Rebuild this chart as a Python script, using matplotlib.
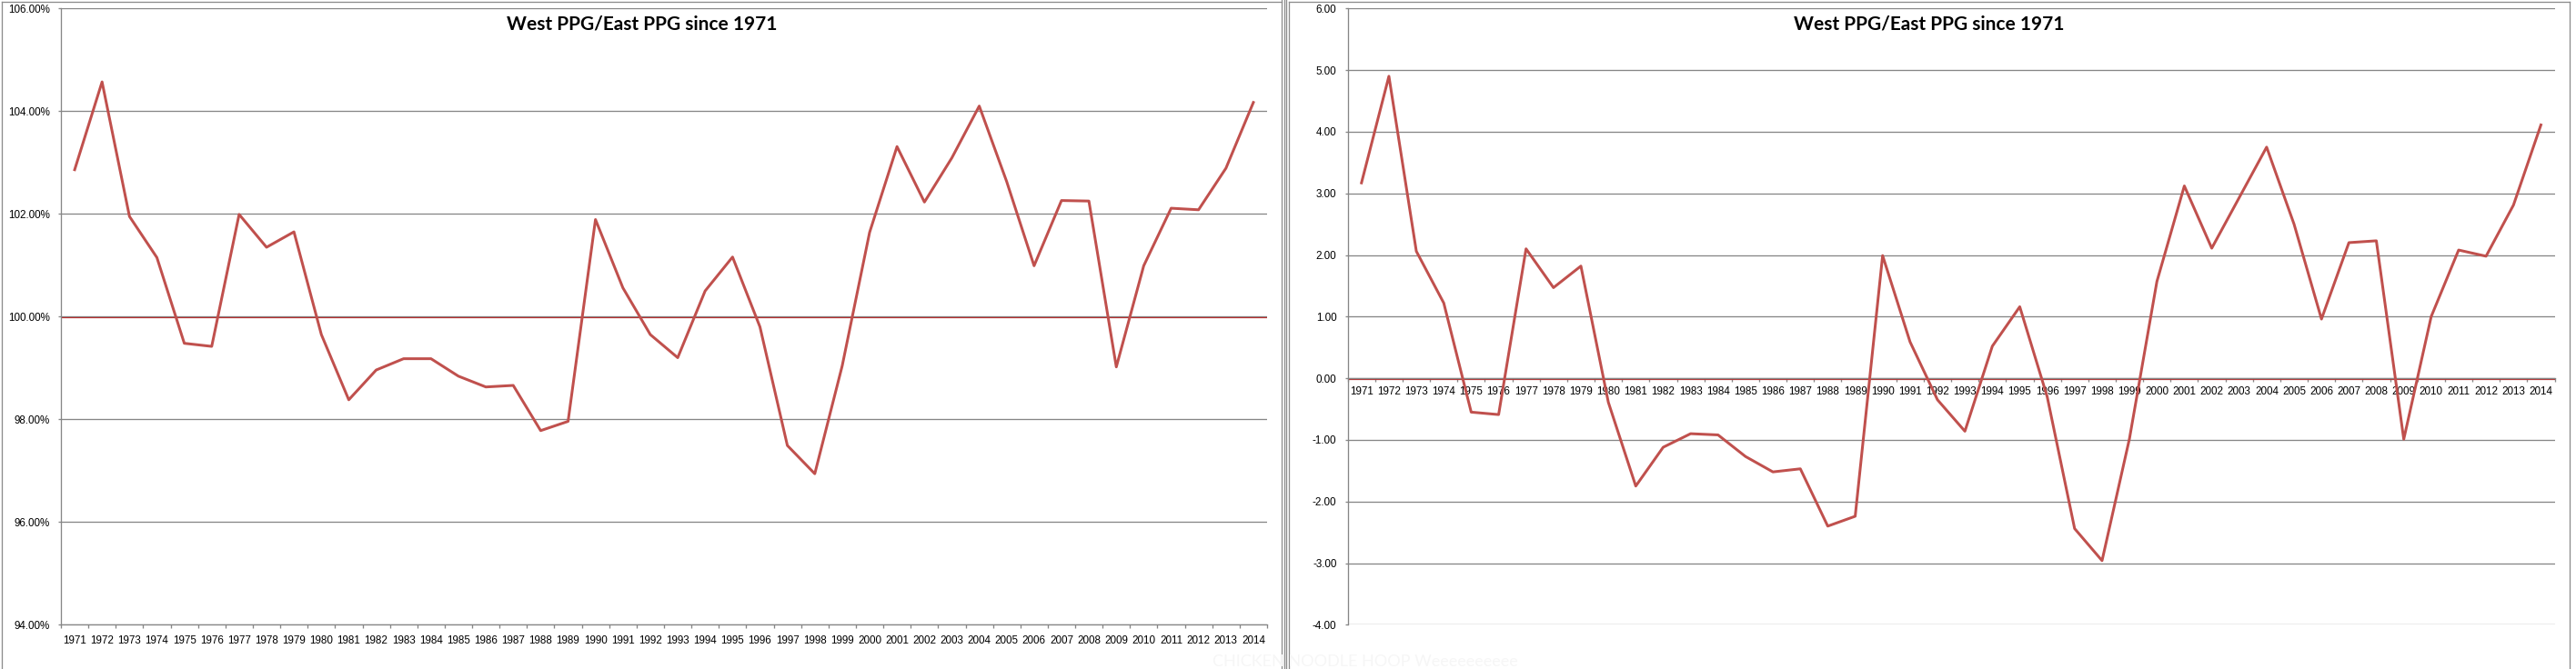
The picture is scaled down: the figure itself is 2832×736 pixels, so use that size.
import numpy as np
import matplotlib
matplotlib.use("Agg")
import matplotlib.pyplot as plt
from matplotlib.lines import Line2D
from matplotlib.ticker import FuncFormatter

# ---------------- data ----------------
years = [str(y) for y in range(1971, 2015)]

ratio_pct = [102.86, 104.57, 101.95, 101.15, 99.48, 99.42, 101.99, 101.35, 101.65, 99.65,
             98.38, 98.96, 99.18, 99.18, 98.84, 98.63, 98.66, 97.78, 97.96, 101.89,
             100.56, 99.65, 99.20, 100.50, 101.16, 99.80, 97.49, 96.94, 99.04, 101.64,
             103.31, 102.23, 103.09, 104.10, 102.63, 100.99, 102.26, 102.25, 99.02, 100.99,
             102.11, 102.08, 102.89, 104.17]

diff_ppg = [3.17, 4.90, 2.06, 1.22, -0.55, -0.59, 2.10, 1.47, 1.82, -0.39,
            -1.75, -1.12, -0.90, -0.92, -1.27, -1.52, -1.47, -2.40, -2.24, 1.99,
            0.59, -0.35, -0.86, 0.52, 1.16, -0.30, -2.44, -2.96, -0.98, 1.57,
            3.12, 2.11, 2.93, 3.75, 2.50, 0.96, 2.20, 2.23, -0.99, 1.00,
            2.08, 1.98, 2.81, 4.11]

title = "West PPG/East PPG since 1971"
left_yticks = [94, 96, 98, 100, 102, 104, 106]
right_yticks = [-4, -3, -2, -1, 0, 1, 2, 3, 4, 5, 6]
watermark = "CHICKEN NOODLE HOOP Weeeeeeeeee"

# ---------------- style ----------------
W, H = 2832, 736
LINE = "#C0504D"
REFLINE = "#B83030"
GRID = "#868686"
TICKFONT = "Liberation Sans"
TICKSIZE = 8.4
PX = 72 / 100.0  # points per pixel

fig = plt.figure(figsize=(W / 100, H / 100), dpi=100)
fig.patch.set_facecolor("white")


def fx(x):
    return x / W


def fy(y):
    return 1 - y / H


def make_axes(x0, x1, y0, y1):
    return fig.add_axes([fx(x0), fy(y1), fx(x1) - fx(x0), (y1 - y0) / H])


xpos = np.arange(len(years)) + 0.5

# ---------------- left panel ----------------
ax1 = make_axes(67, 1393, 9.3, 687.3)
ax1.set_xlim(0, len(years))
ax1.set_ylim(94, 106)
ax1.set_yticks(left_yticks)
ax1.yaxis.set_major_formatter(FuncFormatter(lambda v, p: f"{v:.2f}%"))
ax1.grid(axis="y", color=GRID, lw=1.3 * PX, zorder=0)
ax1.axhline(100 - 0.02, color=REFLINE, lw=1.2 * PX, zorder=2)
ax1.plot(xpos, ratio_pct, color=LINE, lw=3 * PX, zorder=3, solid_joinstyle="round")

# ---------------- right panel ----------------
ax2 = make_axes(1481.7, 2808.5, 9.3, 687.3)
ax2.set_xlim(0, len(years))
ax2.set_ylim(-4, 6)
ax2.set_yticks(right_yticks)
ax2.yaxis.set_major_formatter(FuncFormatter(lambda v, p: f"{v:.2f}"))
ax2.grid(axis="y", color=GRID, lw=1.3 * PX, zorder=0)
ax2.spines["bottom"].set_position(("data", 0))
ax2.axhline(-0.015, color=REFLINE, lw=1.2 * PX, zorder=2.5)
ax2.plot(xpos, diff_ppg, color=LINE, lw=3 * PX, zorder=3, solid_joinstyle="round")

for ax, xpad in ((ax1, 8.1), (ax2, 6.7)):
    ax.set_axisbelow(True)
    ax.spines["top"].set_visible(False)
    ax.spines["right"].set_visible(False)
    ax.spines["left"].set_color(GRID)
    ax.spines["bottom"].set_color(GRID)
    ax.spines["left"].set_linewidth(1.3 * PX)
    ax.spines["bottom"].set_linewidth(1.3 * PX)
    ax.set_xticks(np.arange(len(years) + 1))
    ax.set_xticklabels([])
    ax.set_xticks(xpos, minor=True)
    ax.set_xticklabels(years, minor=True)
    ax.tick_params(axis="x", which="major", direction="out", length=4 * PX,
                   color=GRID, width=1.3 * PX)
    ax.tick_params(axis="x", which="minor", length=0, pad=xpad)
    ax.tick_params(axis="y", direction="out", length=3 * PX, color=GRID,
                   width=1.3 * PX, pad=9.3 * PX)
    for lab in ax.get_xticklabels(minor=True) + ax.get_yticklabels():
        lab.set_fontfamily(TICKFONT)
        lab.set_fontsize(TICKSIZE)
        lab.set_color("black")

# ---------------- titles ----------------
fig.text(fx(705.5), fy(26.7), title, ha="center", va="center",
         fontsize=15, fontweight="bold", family="Lato", color="black")
fig.text(fx(2120.8), fy(26.7), title, ha="center", va="center",
         fontsize=15, fontweight="bold", family="Lato", color="black")

# faint watermark
fig.text(fx(1333), fy(728), watermark, ha="left", va="center",
         fontsize=13, family="Lato", color="#f6f6f6")

# ---------------- chart frames ----------------
FRAME = "#8c8c8c"


def fline(xs, ys):
    fig.add_artist(Line2D([fx(x) for x in xs], [fy(y) for y in ys],
                          transform=fig.transFigure, color=FRAME, lw=1.3 * PX))


fline([2, 2], [1.7, 736])
fline([2, 1409.3], [1.7, 1.7])
fline([1409.3, 1409.3], [0, 736])
fline([1411.7, 1411.7], [0, 736])
fline([1414, 1414], [0, 736])
fline([1416.7, 1416.7], [1.7, 736])
fline([1416.7, 2825], [1.7, 1.7])
fline([2825, 2825], [1.7, 736])

fig.savefig("out.png", dpi=100)
